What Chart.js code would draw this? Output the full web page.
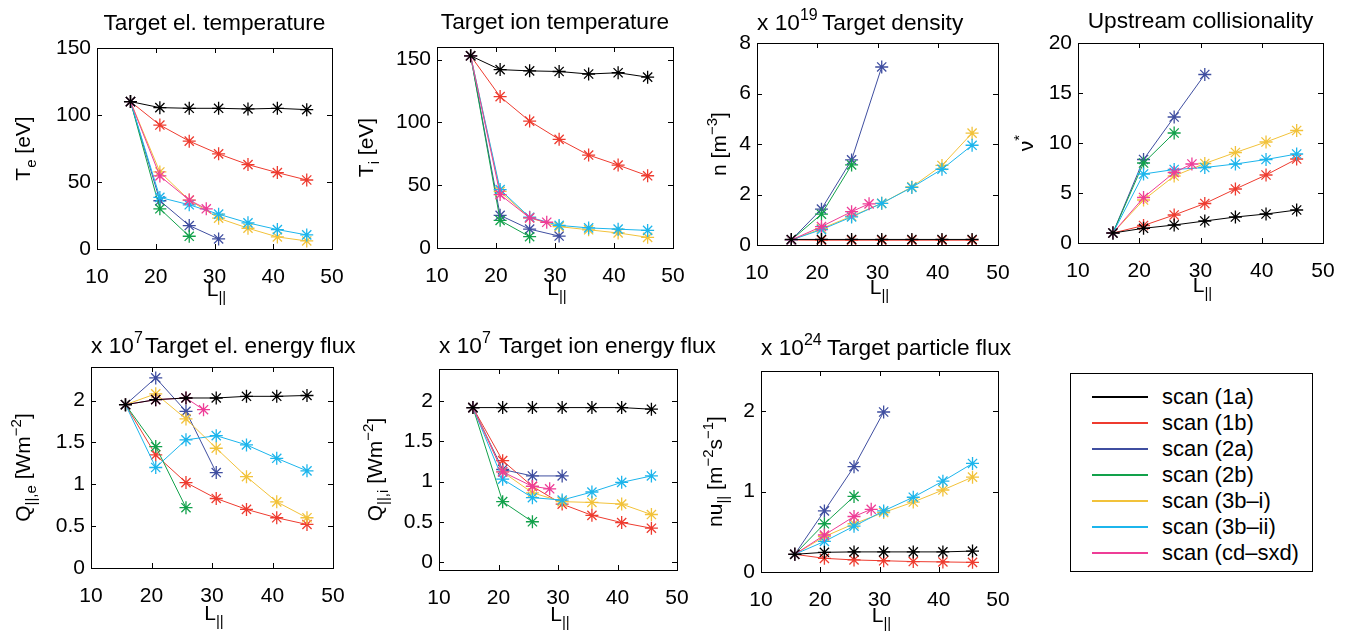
<!DOCTYPE html>
<html>
<head>
<meta charset="utf-8">
<script src="https://cdn.jsdelivr.net/npm/chart.js@4.4.1/dist/chart.umd.min.js"></script>
<style>
  body { margin: 0; background: #fff; width: 1362px; height: 631px; overflow: hidden; position: relative; }
  canvas { position: absolute; left: 0; top: 0; pointer-events: none; }
  #legend { position: absolute; left: 1070px; top: 373px; width: 243px; height: 199px; box-sizing: border-box;
            border: 1px solid #000; background: #fff; font-family: "Liberation Sans", Arial, sans-serif; font-size: 22px; }
  #legend .row { position: absolute; left: 0; height: 26px; line-height: 26px; white-space: nowrap; }
  #legend .line { position: absolute; left: 21px; top: 12px; width: 56px; height: 2px; }
  #legend .txt { position: absolute; left: 91px; top: 0; }
</style>
</head>
<body>
<div id="legend"></div>
<script>
const FONT = '"Liberation Sans", Arial, sans-serif';

// series names, colours and L|| positions
const scanNames = ["scan (1a)", "scan (1b)", "scan (2a)", "scan (2b)", "scan (3b–i)", "scan (3b–ii)", "scan (cd–sxd)"];
const scanColors = ["#000000", "#ee3b2f", "#3f4ea0", "#12a14b", "#f2c23a", "#1cb5ec", "#ee3d97"];
const xLong = [15.7, 20.7, 25.7, 30.7, 35.7, 40.7, 45.7];
const x2a = [15.7, 20.7, 25.7, 30.7];
const x2b = [15.7, 20.7, 25.7];
const xCd = [15.7, 20.7, 25.7, 28.6];
const scanX = [xLong, xLong, x2a, x2b, xLong, xLong, xCd];
const xTicks = [10, 20, 30, 40, 50];

// one row per scan, same order as scanNames
const teVals = [
  [110, 105.5, 105, 105, 104.5, 105, 104],
  [110, 92.5, 80.5, 71, 63, 57, 51.5],
  [110, 36, 17.5, 7.5],
  [110, 30, 9.5],
  [110, 57.5, 36.5, 23, 15.5, 9, 6],
  [110, 38.5, 33, 26, 19.5, 14.5, 10.5],
  [110, 54.5, 36.5, 30]
];
const tiVals = [
  [153, 142, 141, 140.5, 138.5, 139.5, 136],
  [153, 120.5, 101, 86.5, 74, 66, 57.5],
  [153, 26, 15, 9.5],
  [153, 22, 9],
  [153, 45, 24, 17, 14.5, 12, 8.5],
  [153, 46.5, 24.5, 18, 16, 15, 14],
  [153, 42.5, 24, 20.5]
];
const nVals = [
  [0.22, 0.22, 0.22, 0.22, 0.22, 0.22, 0.22],
  [0.2, 0.19, 0.19, 0.19, 0.19, 0.19, 0.19],
  [0.2, 1.42, 3.37, 7.05],
  [0.2, 1.22, 3.17],
  [0.2, 0.65, 1.14, 1.65, 2.3, 3.15, 4.43],
  [0.2, 0.61, 1.11, 1.65, 2.28, 3.0, 3.95],
  [0.2, 0.73, 1.32, 1.63]
];
const nuVals = [
  [1, 1.47, 1.8, 2.2, 2.6, 2.9, 3.3],
  [1, 1.75, 2.8, 3.95, 5.4, 6.8, 8.4],
  [1, 8.35, 12.6, 16.85],
  [1, 8.0, 11.0],
  [1, 4.3, 6.7, 7.95, 9.05, 10.1, 11.25],
  [1, 6.9, 7.35, 7.55, 7.9, 8.35, 8.9],
  [1, 4.55, 7.05, 7.9]
];
const qeVals = [
  [1.95, 2.01, 2.03, 2.03, 2.05, 2.05, 2.06],
  [1.95, 1.35, 1.02, 0.83, 0.7, 0.6, 0.52],
  [1.95, 2.27, 1.87, 1.14],
  [1.95, 1.45, 0.72],
  [1.95, 2.08, 1.78, 1.43, 1.09, 0.79, 0.6],
  [1.95, 1.2, 1.53, 1.58, 1.47, 1.31, 1.16],
  [1.95, 2.01, 2.03, 1.89]
];
const qiVals = [
  [1.92, 1.92, 1.92, 1.92, 1.92, 1.92, 1.9],
  [1.92, 1.26, 0.94, 0.72, 0.58, 0.49, 0.42],
  [1.92, 1.15, 1.07, 1.07],
  [1.92, 0.75, 0.5],
  [1.92, 1.12, 0.86, 0.75, 0.74, 0.72, 0.59],
  [1.92, 1.03, 0.8, 0.77, 0.87, 0.99, 1.07],
  [1.92, 1.12, 0.94, 0.91]
];
const gammaVals = [
  [0.22, 0.245, 0.25, 0.25, 0.25, 0.25, 0.26],
  [0.22, 0.17, 0.15, 0.14, 0.13, 0.125, 0.12],
  [0.22, 0.76, 1.31, 1.99],
  [0.22, 0.6, 0.94],
  [0.22, 0.44, 0.6, 0.74, 0.87, 1.02, 1.18],
  [0.22, 0.38, 0.57, 0.76, 0.93, 1.13, 1.35],
  [0.22, 0.46, 0.69, 0.78]
];

// y tick labels
const teTicks = [0, 50, 100, 150];
const tiTicks = [0, 50, 100, 150];
const nTicks = [0, 2, 4, 6, 8];
const nuTicks = [0, 5, 10, 15, 20];
const qTicks = [0, 0.5, 1, 1.5, 2];
const gammaTicks = [0, 1, 2];

// layout of each panel: axes box [left, top, right, bottom] in page px
const panels = [
  { values: teVals, yTicks: teTicks, yMin: 0, yMax: 150, box: [97, 48, 332, 249],
    title: "Target el. temperature", titleY: 30,
    yLabel: [{ t: "T" }, { t: "e", s: "sub" }, { t: " [eV]" }], yLabelX: 30, xLabelY: 296 },
  { values: tiVals, yTicks: tiTicks, yMin: 0, yMax: 160, box: [437, 47, 673, 248],
    title: "Target ion temperature", titleY: 29,
    yLabel: [{ t: "T" }, { t: "i", s: "sub" }, { t: " [eV]" }], yLabelX: 373, xLabelY: 295 },
  { values: nVals, yTicks: nTicks, yMin: 0, yMax: 8, box: [757, 43, 998, 245],
    title: "Target density", titleY: 30, expo: "19", titleX: 822,
    yLabel: [{ t: "n [m" }, { t: "−3", s: "sup" }, { t: "]" }], yLabelX: 726, xLabelY: 294 },
  { values: nuVals, yTicks: nuTicks, yMin: 0, yMax: 20, box: [1078, 43, 1323, 243],
    title: "Upstream collisionality", titleY: 28,
    yLabel: [{ t: "ν" }, { t: "*", s: "sup" }], yLabelX: 1033, xLabelY: 292 },
  { values: qeVals, yTicks: qTicks, yMin: 0, yMax: 2.4, box: [91, 367, 333, 568],
    title: "Target el. energy flux", titleY: 353, expo: "7", titleX: 145,
    yLabel: [{ t: "Q" }, { t: "||,e", s: "sub" }, { t: " [Wm" }, { t: "−2", s: "sup" }, { t: "]" }], yLabelX: 30, xLabelY: 620 },
  { values: qiVals, yTicks: qTicks, yMin: -0.1, yMax: 2.4, box: [439, 369, 677, 570],
    title: "Target ion energy flux", titleY: 353, expo: "7", titleX: 499,
    yLabel: [{ t: "Q" }, { t: "||,i", s: "sub" }, { t: " [Wm" }, { t: "−2", s: "sup" }, { t: "]" }], yLabelX: 382, xLabelY: 621 },
  { values: gammaVals, yTicks: gammaTicks, yMin: 0, yMax: 2.5, box: [761, 371, 998, 572],
    title: "Target particle flux", titleY: 355, expo: "24", titleX: 827,
    yLabel: [{ t: "nu" }, { t: "||", s: "sub" }, { t: " [m" }, { t: "−2", s: "sup" }, { t: "s" }, { t: "−1", s: "sup" }, { t: "]" }], yLabelX: 722, xLabelY: 622 }
];

// room kept for the tick labels on each axis
const Y_AXIS_W = 70;
const X_AXIS_H = 36;
const TITLE_SIZE = 22.7;
const LABEL_SIZE = 21;

function drawRich(ctx, segs, x, y, size, align) {
  const small = Math.round(size * 0.72);
  const fontFor = s => (s.s ? small : size) + "px " + FONT;
  let w = 0;
  segs.forEach(s => { ctx.font = fontFor(s); w += ctx.measureText(s.t).width; });
  let cx = align === "center" ? x - w / 2 : x;
  ctx.textAlign = "left";
  ctx.textBaseline = "alphabetic";
  segs.forEach(s => {
    ctx.font = fontFor(s);
    const dy = s.s === "sub" ? size * 0.3 : s.s === "sup" ? -size * 0.42 : 0;
    ctx.fillText(s.t, cx, y + dy);
    cx += ctx.measureText(s.t).width;
  });
}

// box with inward ticks on all sides, titles and axis labels
const panelDeco = {
  id: "panelDeco",
  afterDraw(chart, args, p) {
    const ctx = chart.ctx;
    const { left, top, right, bottom } = chart.chartArea;
    const xs = chart.scales.x, ys = chart.scales.y;
    ctx.save();
    ctx.strokeStyle = "#000";
    ctx.lineWidth = 1;
    ctx.strokeRect(Math.round(left) + 0.5, Math.round(top) + 0.5, Math.round(right - left), Math.round(bottom - top));
    ctx.beginPath();
    xTicks.forEach(v => {
      const px = Math.round(xs.getPixelForValue(v)) + 0.5;
      ctx.moveTo(px, bottom); ctx.lineTo(px, bottom - 5);
      ctx.moveTo(px, top); ctx.lineTo(px, top + 5);
    });
    p.yTicks.forEach(v => {
      const py = Math.round(ys.getPixelForValue(v)) + 0.5;
      ctx.moveTo(left, py); ctx.lineTo(left + 5, py);
      ctx.moveTo(right, py); ctx.lineTo(right - 5, py);
    });
    ctx.stroke();

    ctx.fillStyle = "#000";
    if (p.expo) {
      drawRich(ctx, [{ t: "x 10" }, { t: p.expo, s: "sup" }], left, p.titleY, TITLE_SIZE, "left");
      drawRich(ctx, [{ t: p.title }], p.titleX, p.titleY, TITLE_SIZE, "left");
    } else {
      drawRich(ctx, [{ t: p.title }], (left + right) / 2, p.titleY, TITLE_SIZE, "center");
    }
    drawRich(ctx, [{ t: "L" }, { t: "||", s: "sub" }], (left + right) / 2 + 2, p.xLabelY, LABEL_SIZE, "center");

    ctx.translate(p.yLabelX, (top + bottom) / 2);
    ctx.rotate(-Math.PI / 2);
    drawRich(ctx, p.yLabel, 0, 0, LABEL_SIZE, "center");
    ctx.restore();
  }
};

const tickFont = { family: FONT, size: LABEL_SIZE };

panels.forEach(p => {
  const canvas = document.createElement("canvas");
  canvas.width = 1362;
  canvas.height = 631;
  document.body.appendChild(canvas);

  const datasets = p.values.map((vals, i) => ({
    label: scanNames[i],
    data: vals.map((v, k) => ({ x: scanX[i][k], y: v })),
    borderColor: scanColors[i],
    backgroundColor: scanColors[i],
    borderWidth: 1,
    pointStyle: "star",
    pointRadius: 6.5,
    pointBorderWidth: 1.3,
    tension: 0,
    order: i === 0 ? 0 : 7 - i
  }));

  new Chart(canvas, {
    type: "line",
    data: { datasets },
    options: {
      responsive: false,
      animation: false,
      events: [],
      layout: { padding: {
        left: p.box[0] - Y_AXIS_W, top: p.box[1],
        right: 1362 - p.box[2], bottom: 631 - p.box[3] - X_AXIS_H } },
      plugins: { legend: { display: false }, tooltip: { enabled: false }, panelDeco: p },
      scales: {
        x: {
          type: "linear", min: 10, max: 50,
          afterFit: s => { s.height = X_AXIS_H; },
          afterBuildTicks: s => { s.ticks = xTicks.map(v => ({ value: v })); },
          grid: { display: false, drawTicks: false }, border: { display: false },
          ticks: { font: tickFont, color: "#000", padding: 16, maxRotation: 0, autoSkip: false }
        },
        y: {
          type: "linear", min: p.yMin, max: p.yMax,
          afterFit: s => { s.width = Y_AXIS_W; },
          afterBuildTicks: s => { s.ticks = p.yTicks.map(v => ({ value: v })); },
          grid: { display: false, drawTicks: false }, border: { display: false },
          ticks: { font: tickFont, color: "#000", padding: 6, autoSkip: false, callback: v => String(v) }
        }
      }
    },
    plugins: [panelDeco]
  });
});

// legend box
const legend = document.getElementById("legend");
scanNames.forEach((name, i) => {
  const row = document.createElement("div");
  row.className = "row";
  row.style.top = (10 + i * 26) + "px";
  row.style.width = "100%";
  row.innerHTML = '<span class="line" style="background:' + scanColors[i] + '"></span><span class="txt">' + name + "</span>";
  legend.appendChild(row);
});
</script>
</body>
</html>
